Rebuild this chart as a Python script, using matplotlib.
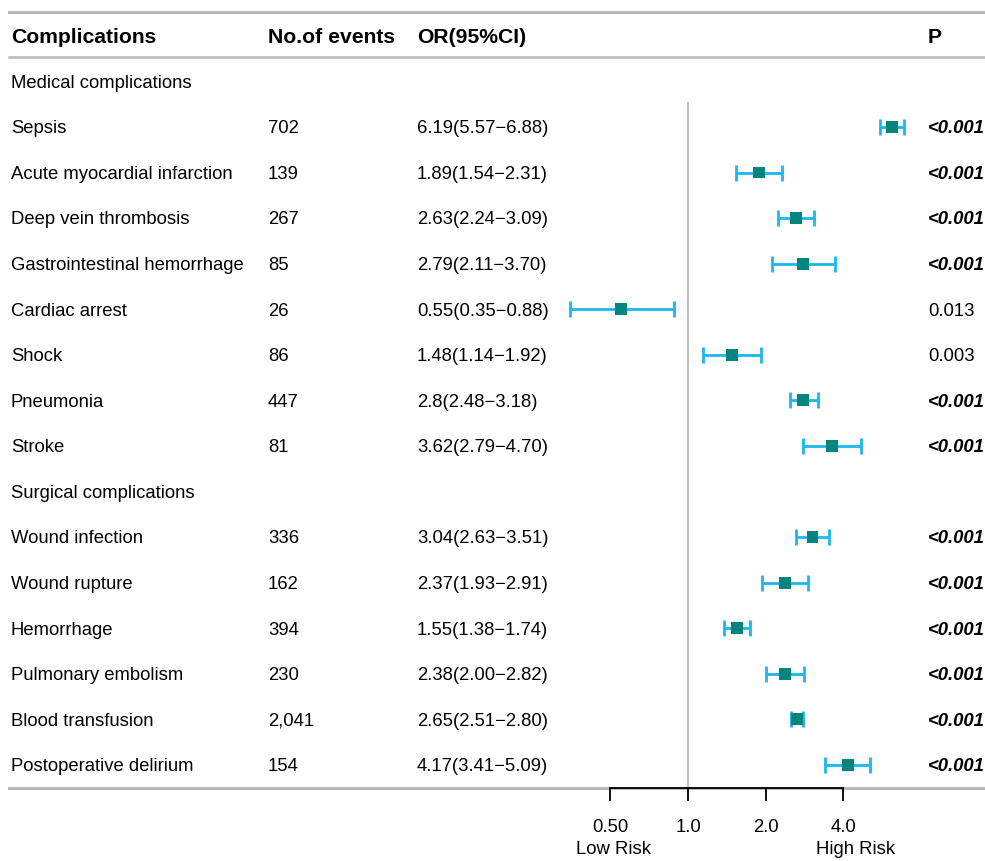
"""Forest plot of postoperative complications (OR with 95% CI, log scale)."""

import matplotlib.pyplot as plt
import numpy as np
from matplotlib.transforms import blended_transform_factory

plt.rcParams["font.family"] = ["Liberation Sans", "DejaVu Sans"]

# ---- data -------------------------------------------------------------
MEDICAL = [
    "Sepsis", "Acute myocardial infarction", "Deep vein thrombosis",
    "Gastrointestinal hemorrhage", "Cardiac arrest", "Shock", "Pneumonia",
    "Stroke",
]
SURGICAL = [
    "Wound infection", "Wound rupture", "Hemorrhage", "Pulmonary embolism",
    "Blood transfusion", "Postoperative delirium",
]
events = ["702", "139", "267", "85", "26", "86", "447", "81",
          "336", "162", "394", "230", "2,041", "154"]
odds = [6.19, 1.89, 2.63, 2.79, 0.55, 1.48, 2.80, 3.62,
        3.04, 2.37, 1.55, 2.38, 2.65, 4.17]
ci_lo = [5.57, 1.54, 2.24, 2.11, 0.35, 1.14, 2.48, 2.79,
         2.63, 1.93, 1.38, 2.00, 2.51, 3.41]
ci_hi = [6.88, 2.31, 3.09, 3.70, 0.88, 1.92, 3.18, 4.70,
         3.51, 2.91, 1.74, 2.82, 2.80, 5.09]
or_text = ["6.19(5.57\u22126.88)", "1.89(1.54\u22122.31)", "2.63(2.24\u22123.09)",
           "2.79(2.11\u22123.70)", "0.55(0.35\u22120.88)", "1.48(1.14\u22121.92)",
           "2.8(2.48\u22123.18)", "3.62(2.79\u22124.70)", "3.04(2.63\u22123.51)",
           "2.37(1.93\u22122.91)", "1.55(1.38\u22121.74)", "2.38(2.00\u22122.82)",
           "2.65(2.51\u22122.80)", "4.17(3.41\u22125.09)"]
p_text = ["<0.001", "<0.001", "<0.001", "<0.001", "0.013", "0.003", "<0.001",
          "<0.001", "<0.001", "<0.001", "<0.001", "<0.001", "<0.001", "<0.001"]
xticks = [0.5, 1.0, 2.0, 4.0]
xtick_labels = ["0.50", "1.0", "2.0", "4.0"]

# ---- layout -----------------------------------------------------------
W, H = 985, 861
ROW0, ROWH = 35.8, 45.57          # pixel y of header row, row spacing
PX_ONE, PX_OCT = 688, 77.67       # pixel x of OR=1, pixels per doubling
COL_X = [11, 268, 417, 928]
TXT_DY = 0.04                     # nudge text down a little (rows)

FS_HEAD, FS_BODY = 15.2, 13.3
GRID = "#b8b8b8"
BAR_C = "#1ab8ee"
BOX_C = "#00847e"


def px_to_row(y):
    return (y - ROW0) / ROWH


def px_to_or(x):
    return 2 ** ((x - PX_ONE) / PX_OCT)


# row index for each line of the table
rows = []
r = 2
for _ in MEDICAL:
    rows.append(r)
    r += 1
surg_header = r
r += 1
for _ in SURGICAL:
    rows.append(r)
    r += 1
rows = np.array(rows)
names = MEDICAL + SURGICAL

fig = plt.figure(figsize=(W / 100, H / 100), dpi=100)
ax = fig.add_axes([0, 0, 1, 1])
ax.set_xscale("log")
ax.set_xlim(px_to_or(0), px_to_or(W))
ax.set_ylim(px_to_row(H), px_to_row(0))
ax.patch.set_alpha(0)

tr = blended_transform_factory(ax.transAxes, ax.transData)


def fx(px):
    return px / W


# table rules
for ypx, lw in [(12, 2.2), (57, 1.8), (787.5, 2.2)]:
    ax.axhline(px_to_row(ypx), xmin=fx(9), xmax=1, color=GRID, lw=lw, zorder=1)

# reference line at OR = 1
ax.plot([1, 1], [px_to_row(103), px_to_row(787)], color="#b0b0b0", lw=1.2,
        zorder=1)

# headers
for x, t in zip(COL_X, ["Complications", "No.of events", "OR(95%CI)", "P"]):
    ax.text(fx(x), TXT_DY, t, transform=tr, fontsize=FS_HEAD,
            fontweight="bold", va="center", ha="left")
ax.text(fx(COL_X[0]), 1 + TXT_DY, "Medical complications", transform=tr,
        fontsize=FS_BODY, va="center")
ax.text(fx(COL_X[0]), surg_header + TXT_DY, "Surgical complications",
        transform=tr, fontsize=FS_BODY, va="center")

for yr, nm, ev, ot, pt in zip(rows, names, events, or_text, p_text):
    yt = yr + TXT_DY
    ax.text(fx(COL_X[0]), yt, nm, transform=tr, fontsize=FS_BODY, va="center")
    ax.text(fx(COL_X[1]), yt, ev, transform=tr, fontsize=FS_BODY, va="center")
    ax.text(fx(COL_X[2]), yt, ot, transform=tr, fontsize=FS_BODY, va="center")
    sig = pt.startswith("<")
    ax.text(fx(COL_X[3]), yt, pt, transform=tr, fontsize=FS_BODY, va="center",
            fontweight="bold" if sig else "normal",
            fontstyle="italic" if sig else "normal")

# intervals and point estimates
odds = np.array(odds)
err = np.vstack([odds - np.array(ci_lo), np.array(ci_hi) - odds])
ax.errorbar(odds, rows, xerr=err, fmt="none", ecolor=BAR_C, elinewidth=2.0,
            capsize=5.5, capthick=2.0, zorder=3)
ax.scatter(odds, rows, marker="s", s=72, color=BOX_C, edgecolor="none",
           zorder=4)

# x axis
for s in ("top", "left", "right"):
    ax.spines[s].set_visible(False)
ax.spines["bottom"].set_position(("data", px_to_row(787.5)))
ax.spines["bottom"].set_bounds(xticks[0], xticks[-1])
ax.spines["bottom"].set_linewidth(1.3)
ax.spines["bottom"].set_zorder(2)
ax.set_xticks(xticks)
ax.set_xticklabels(xtick_labels)
ax.xaxis.set_minor_locator(plt.NullLocator())
ax.tick_params(axis="x", direction="out", length=9, width=1.3, pad=14,
               labelsize=FS_BODY)
ax.set_yticks([])

ax.text(fx(614), px_to_row(850), "Low Risk", transform=tr, fontsize=FS_BODY,
        ha="center", va="center")
ax.text(fx(856), px_to_row(850), "High Risk", transform=tr, fontsize=FS_BODY,
        ha="center", va="center")

fig.savefig("out.png", dpi=100)
